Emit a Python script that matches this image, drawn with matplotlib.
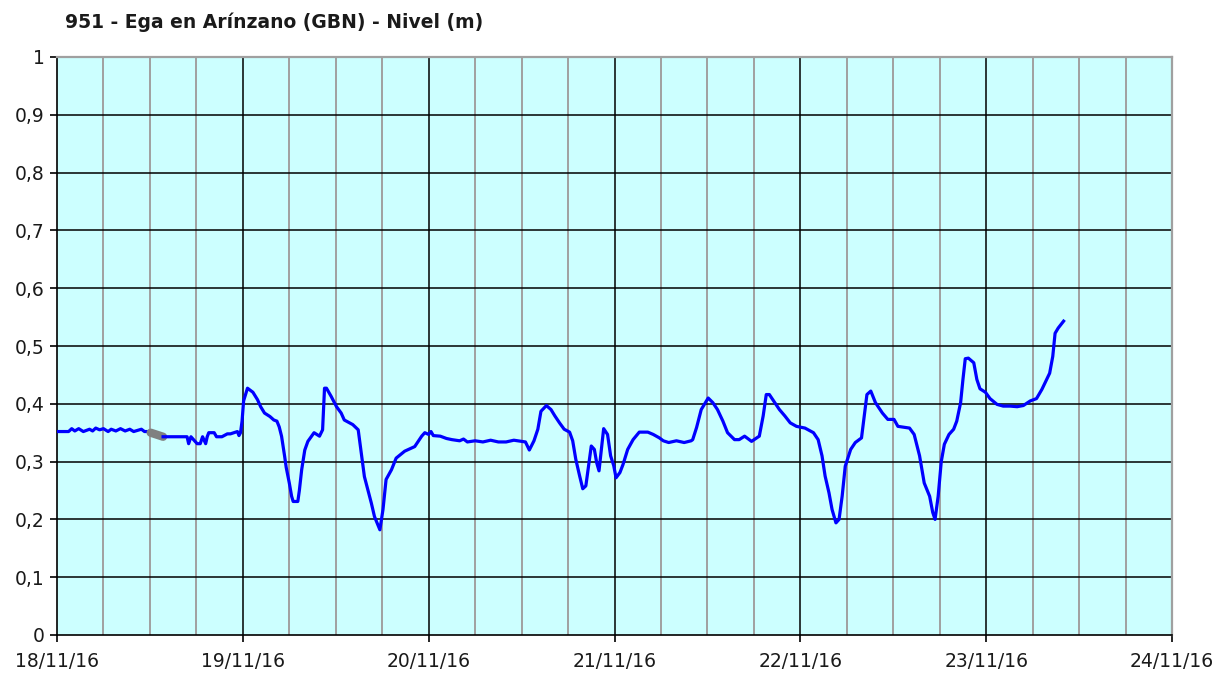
import matplotlib
matplotlib.use("Agg")
import matplotlib.pyplot as plt

title = "951 - Ega en Arínzano (GBN) - Nivel (m)"
x_tick_labels = ["18/11/16", "19/11/16", "20/11/16", "21/11/16", "22/11/16", "23/11/16", "24/11/16"]
y_tick_labels = ["0", "0,1", "0,2", "0,3", "0,4", "0,5", "0,6", "0,7", "0,8", "0,9", "1"]

# hours since 18/11/16 00:00
hours_a = [0, 1.5, 1.9, 2.3, 2.8, 3.4, 4.2, 4.6, 5.0, 5.5, 6.0, 6.6, 7.0, 7.6, 8.2, 8.8, 9.4, 9.9, 10.9, 11.3, 12.1]
level_a = [0.352, 0.352, 0.357, 0.353, 0.357, 0.352, 0.356, 0.353, 0.358, 0.355, 0.357, 0.352, 0.356, 0.353,
           0.357, 0.353, 0.356, 0.352, 0.356, 0.352, 0.352]

hours_gap = [12.1, 13.7]
level_gap = [0.350, 0.343]

hours_b = [13.7, 16.8, 17.0, 17.3, 18.1, 18.5, 18.8, 19.2, 19.4, 19.6, 20.3, 20.6, 21.3, 22.0, 22.4, 23.3,
           23.5, 23.7, 23.9, 24.1, 24.6, 25.3, 25.9, 26.3, 26.8, 27.5, 28.0, 28.4, 28.7, 29.0, 29.4, 29.6,
           30.0, 30.3, 30.5, 31.1, 31.3, 31.6, 32.0, 32.4, 33.2, 33.9, 34.3, 34.55, 34.8, 35.4, 36.1, 36.7,
           37.1, 38.2, 38.9, 39.3, 39.7, 40.6, 41.0, 41.7, 42.1, 42.5, 43.2, 43.8, 44.9, 46.2, 47.1, 47.5,
           48.0, 48.3, 48.6, 49.5, 50.3, 51.0, 52.0, 52.5, 53.0, 54.0, 55.0, 56.0, 57.0, 58.0, 59.0, 60.5,
           61.0, 61.6, 62.1, 62.5, 63.2, 63.8, 64.3, 64.9, 65.5, 66.2, 66.6, 67.0, 67.5, 67.9, 68.3, 68.7,
           69.0, 69.4, 69.7, 70.0, 70.3, 70.6, 71.1, 71.5, 71.9, 72.2, 72.7, 73.1, 73.7, 74.4, 75.2, 76.3,
           77.0, 77.8, 78.3, 79.0, 80.0, 81.0, 81.9, 82.1, 82.6, 83.2, 84.1, 84.7, 85.3, 86.0, 86.6, 87.5,
           88.1, 88.8, 89.7, 90.7, 91.2, 91.6, 92.0, 92.7, 93.3, 94.0, 94.7, 95.5, 96.6, 97.7, 98.3, 98.8,
           99.2, 99.7, 100.1, 100.6, 101.0, 101.4, 101.8, 102.5, 103.1, 103.9, 104.2, 104.6, 105.1, 105.7,
           106.6, 107.3, 108.1, 108.6, 110.1, 110.7, 111.4, 112.0, 112.7, 113.1, 113.4, 113.8, 114.2, 114.6,
           115.2, 115.8, 116.2, 116.7, 117.0, 117.3, 117.7, 118.4, 118.8, 119.2, 119.9, 120.5, 121.4, 122.2,
           123.1, 124.0, 124.8, 125.7, 126.5, 127.2, 127.8, 128.2, 128.6, 128.9, 129.3, 130.0]
level_b = [0.343, 0.343, 0.331, 0.343, 0.331, 0.331, 0.343, 0.331, 0.343, 0.350, 0.350, 0.343, 0.343, 0.348,
           0.348, 0.352, 0.345, 0.350, 0.370, 0.405, 0.427, 0.420, 0.407, 0.395, 0.384, 0.378, 0.372, 0.370,
           0.360, 0.344, 0.309, 0.290, 0.263, 0.240, 0.231, 0.231, 0.250, 0.286, 0.320, 0.335, 0.350, 0.344,
           0.355, 0.427, 0.427, 0.413, 0.395, 0.384, 0.372, 0.364, 0.355, 0.315, 0.274, 0.228, 0.205, 0.182,
           0.217, 0.269, 0.286, 0.306, 0.318, 0.326, 0.344, 0.350, 0.347, 0.352, 0.345, 0.344, 0.340, 0.338,
           0.336, 0.339, 0.334, 0.336, 0.334, 0.337, 0.334, 0.334, 0.337, 0.334, 0.320, 0.336, 0.356, 0.387,
           0.397, 0.390, 0.379, 0.367, 0.356, 0.351, 0.336, 0.304, 0.275, 0.253, 0.258, 0.298, 0.327, 0.321,
           0.298, 0.284, 0.321, 0.357, 0.347, 0.310, 0.293, 0.272, 0.281, 0.295, 0.321, 0.338, 0.351, 0.351,
           0.347, 0.341, 0.336, 0.333, 0.336, 0.333, 0.336, 0.338, 0.359, 0.390, 0.410, 0.402, 0.390, 0.370,
           0.350, 0.338, 0.338, 0.344, 0.335, 0.344, 0.379, 0.416, 0.416, 0.402, 0.390, 0.379, 0.367, 0.361,
           0.358, 0.350, 0.338, 0.310, 0.275, 0.246, 0.217, 0.194, 0.200, 0.240, 0.292, 0.321, 0.333, 0.341,
           0.373, 0.416, 0.422, 0.402, 0.384, 0.373, 0.373, 0.361, 0.358, 0.347, 0.310, 0.263, 0.240, 0.212,
           0.200, 0.240, 0.300, 0.330, 0.347, 0.356, 0.370, 0.402, 0.442, 0.478, 0.479, 0.471, 0.442, 0.426,
           0.420, 0.409, 0.399, 0.396, 0.396, 0.395, 0.397, 0.405, 0.409, 0.425, 0.442, 0.453, 0.482, 0.522,
           0.531, 0.543]

W, H = 1232, 675
fig = plt.figure(figsize=(W / 100, H / 100), dpi=100)
fig.patch.set_facecolor("white")
ax = fig.add_axes([57 / W, 1 - 635 / H, (1172 - 57) / W, (635 - 57) / H])
ax.set_facecolor("#CCFFFF")
ax.set_xlim(0, 144)
ax.set_ylim(0, 1)

# grid
for h in range(6, 144, 6):
    if h % 24 == 0:
        ax.axvline(h, color="black", lw=1.1, zorder=1)
    else:
        ax.axvline(h, color="#A0A0A0", lw=1.4, zorder=1)
for i in range(1, 10):
    ax.axhline(i / 10, color="black", lw=1.1, zorder=1)

for side in ["top", "right"]:
    ax.spines[side].set_color("#A0A0A0")
    ax.spines[side].set_linewidth(1.6)
for side in ["left", "bottom"]:
    ax.spines[side].set_color("black")
    ax.spines[side].set_linewidth(1.2)

ax.plot(hours_a, level_a, color="#0000FF", lw=2.3, zorder=3)
ax.plot(hours_gap, level_gap, color="#808080", lw=6, solid_capstyle="round", zorder=3)
ax.plot(hours_b, level_b, color="#0000FF", lw=2.3, zorder=3)

ax.set_xticks(range(0, 145, 24))
ax.set_xticklabels(x_tick_labels)
ax.set_yticks([i / 10 for i in range(11)])
ax.set_yticklabels(y_tick_labels)
ax.tick_params(axis="both", direction="out", length=5, width=1.2, color="black",
               labelsize=13.5, labelcolor="#1a1a1a")
ax.tick_params(axis="x", pad=7)
ax.tick_params(axis="y", pad=4)

fig.text(65 / W, 1 - 22 / H, title, ha="left", va="center", fontsize=13.5,
         fontweight="bold", color="#1a1a1a")

fig.savefig("out.png", dpi=100)
